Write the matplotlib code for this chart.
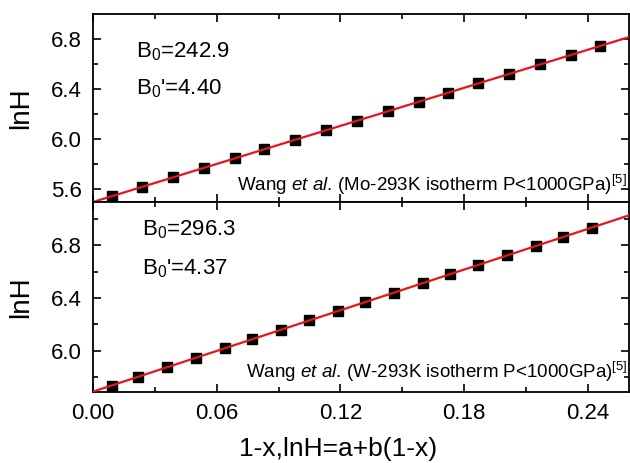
import matplotlib
matplotlib.use('Agg')
import matplotlib.pyplot as plt
import numpy as np

plt.rcParams['font.family'] = ['Liberation Sans', 'DejaVu Sans']
plt.rcParams['mathtext.fontset'] = 'custom'
plt.rcParams['mathtext.rm'] = 'Liberation Sans'
plt.rcParams['mathtext.it'] = 'Liberation Sans:italic'

# Mo (top panel)
mo_x = [0.009, 0.024, 0.039, 0.054, 0.069, 0.083, 0.098, 0.113, 0.128,
        0.143, 0.158, 0.172, 0.187, 0.202, 0.217, 0.232, 0.246]
mo_lnH = [5.546, 5.621, 5.697, 5.773, 5.849, 5.920, 5.996, 6.072, 6.148,
          6.224, 6.299, 6.370, 6.446, 6.522, 6.598, 6.674, 6.745]
mo_a, mo_b = 5.50, 5.06

# W (bottom panel)
w_x = [0.009, 0.022, 0.036, 0.050, 0.064, 0.077, 0.091, 0.105, 0.119,
       0.132, 0.146, 0.160, 0.173, 0.187, 0.201, 0.215, 0.228, 0.242]
w_lnH = [5.739, 5.806, 5.877, 5.949, 6.021, 6.087, 6.159, 6.231, 6.302,
         6.369, 6.441, 6.512, 6.579, 6.650, 6.722, 6.794, 6.860, 6.932]
w_a, w_b = 5.693, 5.12

fig = plt.figure(figsize=(6.3, 4.63), dpi=100)
ax1 = fig.add_axes([0.1476, 0.5637, 0.8508, 0.4061])
ax2 = fig.add_axes([0.1476, 0.1533, 0.8508, 0.4104])

xlim = (0.0, 0.26)
xfit = np.array(xlim)
fmt = matplotlib.ticker.FormatStrFormatter


def style(ax, ylim, yticks, yminor):
    ax.set_xlim(*xlim)
    ax.set_ylim(*ylim)
    ax.set_xticks([0.0, 0.06, 0.12, 0.18, 0.24])
    ax.set_xticks([0.03, 0.09, 0.15, 0.21], minor=True)
    ax.set_yticks(yticks)
    ax.set_yticks(yminor, minor=True)
    ax.tick_params(which='both', direction='in', top=True, right=True,
                   width=1.2, labelsize=16, pad=8)
    ax.tick_params(which='major', length=6)
    ax.tick_params(which='minor', length=3.5)
    for s in ax.spines.values():
        s.set_linewidth(1.3)
    ax.yaxis.set_major_formatter(fmt('%.1f'))
    ax.set_ylabel('lnH', fontsize=20)
    ax.yaxis.set_label_coords(-0.11, 0.5)


ax1.plot(mo_x, mo_lnH, 's', color='black', ms=6.5, zorder=2)
ax1.plot(xfit, mo_a + mo_b * xfit, color='#e8141c', lw=1.6, zorder=3)
style(ax1, (5.5, 7.0), [5.6, 6.0, 6.4, 6.8], [5.8, 6.2, 6.6])
ax1.tick_params(labelbottom=False)
ax1.text(0.081, 0.80, r'$\mathregular{B_0}$=242.9', transform=ax1.transAxes,
         fontsize=16, va='center')
ax1.text(0.081, 0.605, r"$\mathregular{B_0}$'=4.40", transform=ax1.transAxes,
         fontsize=16, va='center')
ax1.text(0.997, 0.09, r'Wang $\mathit{et\ al.}\,$(Mo-293K isotherm P<1000GPa)$^{[5]}$',
         transform=ax1.transAxes, fontsize=13.5, ha='right', va='center')

ax2.plot(w_x, w_lnH, 's', color='black', ms=6.5, zorder=2)
ax2.plot(xfit, w_a + w_b * xfit, color='#e8141c', lw=1.6, zorder=3)
style(ax2, (5.69, 7.125), [6.0, 6.4, 6.8], [5.8, 6.2, 6.6, 7.0])
ax2.xaxis.set_major_formatter(fmt('%.2f'))
ax2.text(0.092, 0.855, r'$\mathregular{B_0}$=296.3', transform=ax2.transAxes,
         fontsize=16, va='center')
ax2.text(0.092, 0.65, r"$\mathregular{B_0}$'=4.37", transform=ax2.transAxes,
         fontsize=16, va='center')
ax2.text(0.997, 0.105, r'Wang $\mathit{et\ al.}\,$(W-293K isotherm P<1000GPa)$^{[5]}$',
         transform=ax2.transAxes, fontsize=13.5, ha='right', va='center')
ax2.set_xlabel('1-x,lnH=a+b(1-x)', fontsize=19)
ax2.xaxis.set_label_coords(0.457, -0.235)

fig.savefig('out.png', dpi=100)
